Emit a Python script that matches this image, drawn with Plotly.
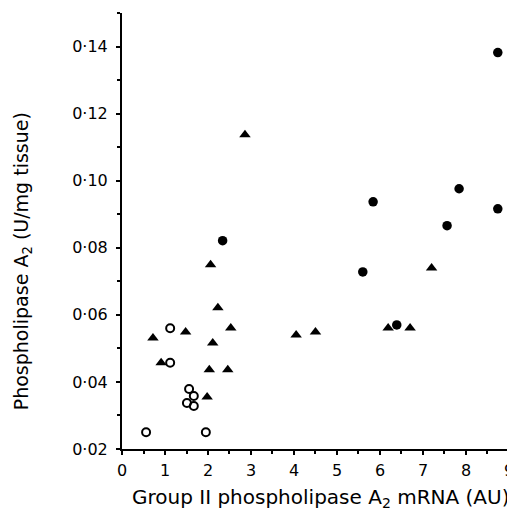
import plotly.graph_objects as go

# Open circles
open_x = [0.56, 1.12, 1.12, 1.56, 1.67, 1.51, 1.67, 1.95]
open_y = [0.025, 0.056, 0.0457, 0.0379, 0.0358, 0.0337, 0.0328, 0.025]

# Filled triangles
tri_x = [0.72, 0.91, 1.48, 2.06, 2.23, 2.53, 2.11, 2.03, 2.46, 1.98, 2.86, 4.05, 4.5, 6.19, 6.70, 7.2]
tri_y = [0.0531, 0.0457, 0.0549, 0.0749, 0.0621, 0.0561, 0.0516, 0.0436, 0.0436, 0.0355, 0.1137,
         0.054, 0.0549, 0.0561, 0.0561, 0.074]

# Filled circles
fc_x = [8.74, 7.84, 5.84, 7.56, 8.74, 5.60, 6.39, 2.34]
fc_y = [0.1382, 0.0976, 0.0937, 0.0866, 0.0916, 0.0728, 0.057, 0.0821]

y_ticks = [0.02, 0.04, 0.06, 0.08, 0.10, 0.12, 0.14]
y_ticktext = ["0·02", "0·04", "0·06", "0·08", "0·10", "0·12", "0·14"]
x_ticks = [0, 1, 2, 3, 4, 5, 6, 7, 8, 9]

x_title = "Group II phospholipase A<sub>2</sub> mRNA (AU)"
y_title = "Phospholipase A<sub>2</sub> (U/mg tissue)"

fig = go.Figure()
fig.add_trace(go.Scatter(x=open_x, y=open_y, mode="markers", cliponaxis=False,
                         marker=dict(symbol="circle-open", size=8, color="black", line=dict(width=2))))
fig.add_trace(go.Scatter(x=tri_x, y=tri_y, mode="markers", cliponaxis=False,
                         marker=dict(symbol="triangle-up", size=10, color="black")))
fig.add_trace(go.Scatter(x=fc_x, y=fc_y, mode="markers", cliponaxis=False,
                         marker=dict(symbol="circle", size=9.5, color="black")))

font = "DejaVu Sans, Liberation Sans, sans-serif"
fig.update_layout(
    width=507, height=509,
    margin=dict(l=114, r=0, t=5, b=68, autoexpand=False),
    plot_bgcolor="white", paper_bgcolor="white",
    showlegend=False,
    font=dict(family=font, color="black", size=16),
    xaxis=dict(range=[0, 9.14], tickvals=x_ticks, showgrid=False, zeroline=False,
               showline=True, linecolor="black", linewidth=2, automargin=False,
               ticks="outside", ticklen=4, tickwidth=2, tickcolor="black", ticklabelstandoff=2,
               minor=dict(dtick=0.5, tick0=0, ticks="outside", ticklen=3, tickwidth=1.5,
                          tickcolor="black", showgrid=False),
               tickfont=dict(size=16)),
    yaxis=dict(range=[0.02, 0.15], tickvals=y_ticks, ticktext=y_ticktext, showgrid=False, zeroline=False,
               showline=True, linecolor="black", linewidth=2, automargin=False,
               ticks="outside", ticklen=4, tickwidth=2, tickcolor="black", ticklabelstandoff=5,
               minor=dict(dtick=0.01, tick0=0.02, ticks="outside", ticklen=3, tickwidth=1.5,
                          tickcolor="black", showgrid=False),
               tickfont=dict(size=16)),
    annotations=[
        dict(text=x_title, xref="paper", yref="paper", x=0.506, y=-0.113, xanchor="center", yanchor="middle",
             showarrow=False, font=dict(size=20)),
        dict(text=y_title, xref="paper", yref="paper", x=-0.254, y=0.431, xanchor="center", yanchor="middle",
             textangle=-90, showarrow=False, font=dict(size=19)),
    ],
)

fig.write_html("out.html")
